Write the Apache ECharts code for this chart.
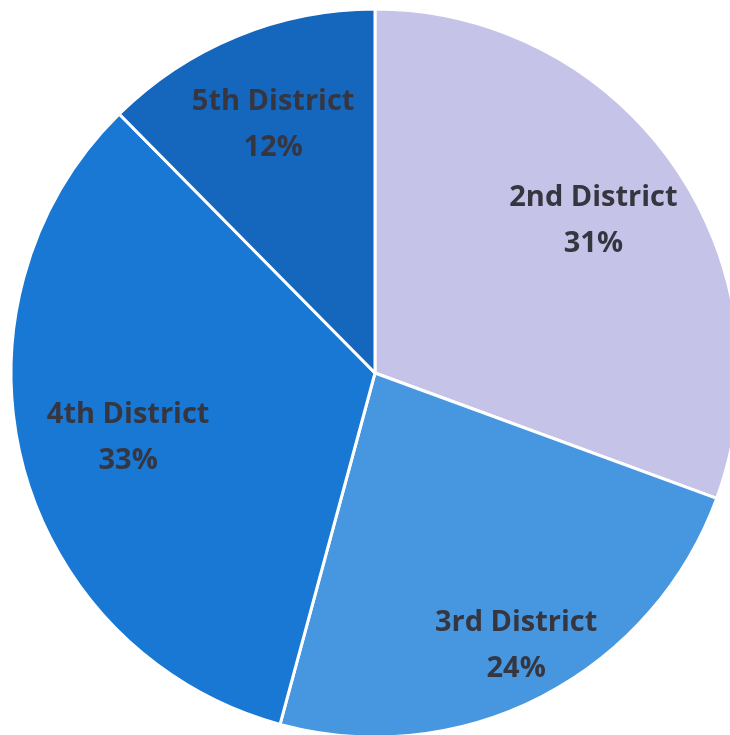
<!DOCTYPE html>
<html>
<head>
<meta charset="utf-8">
<script src="https://cdn.jsdelivr.net/npm/echarts@6/dist/echarts.min.js"></script>
<style>
html,body{margin:0;padding:0;background:#fff;}
#chart{width:730px;height:735px;}
</style>
</head>
<body>
<div id="chart"></div>
<script>
const categories = ['2nd District', '3rd District', '4th District', '5th District'];
const values = [30.6, 23.6, 33.4, 12.4];
const colors = ['#c5c3e7', '#4797e0', '#1978d4', '#1566bd'];
const labelRadius = [0.72, 0.83, 0.69, 0.725];

const CX = 375, CY = 373, R = 364;

const chart = echarts.init(document.getElementById('chart'), null, {renderer: 'canvas'});
chart.setOption({
  animation: false,
  backgroundColor: '#fff',
  series: [{
    type: 'pie',
    center: [CX, CY],
    radius: [0, R],
    startAngle: 90,
    clockwise: true,
    percentPrecision: 0,
    data: categories.map((c, i) => ({name: c, value: values[i], itemStyle: {color: colors[i]}})),
    itemStyle: {borderColor: '#ffffff', borderWidth: 3},
    label: {
      show: true,
      position: 'inside',
      formatter: '{b}\n{d}%',
      color: '#363640',
      fontFamily: 'Open Sans',
      fontWeight: 'bold',
      fontSize: 29,
      lineHeight: 46
    },
    labelLine: {show: false},
    labelLayout: function (p) {
      const lx = p.labelRect.x + p.labelRect.width / 2;
      const ly = p.labelRect.y + p.labelRect.height / 2;
      const k = labelRadius[p.dataIndex] / 0.5;
      return {x: CX + (lx - CX) * k, y: CY + (ly - CY) * k};
    }
  }]
});
</script>
</body>
</html>
